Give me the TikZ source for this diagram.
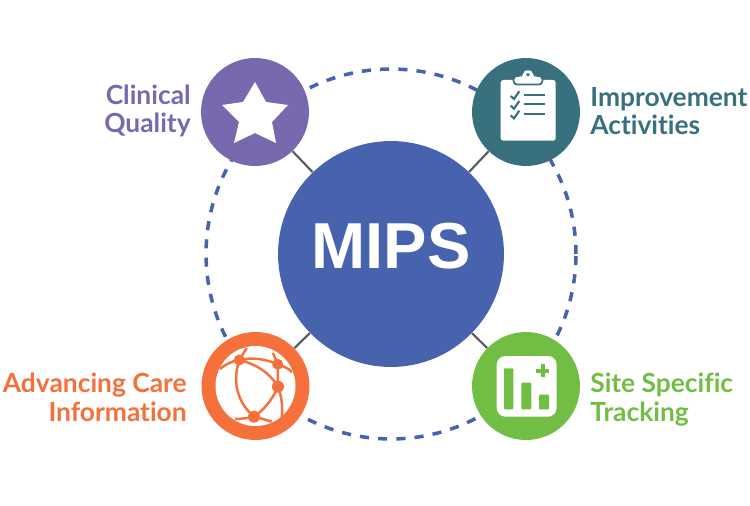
\documentclass[tikz,border=0pt]{standalone}
\usepackage{fontspec}
\setmainfont{Lato}[BoldFont={Lato Bold},Ligatures=NoCommon]
\newfontfamily\mipsfont{Liberation Sans}[BoldFont={Liberation Sans Bold}]

\definecolor{mipsblue}{HTML}{4863AE}
\definecolor{qualpurple}{HTML}{7868AE}
\definecolor{imprteal}{HTML}{38707E}
\definecolor{careorange}{HTML}{F5703A}
\definecolor{sitegreen}{HTML}{72BE44}

\tikzset{
  satellite/.style={circle, minimum size=2.16cm, inner sep=0pt},
  spoke/.style={draw=black!65, line width=1.2pt},
  caption/.style={font=\fontsize{15}{16.4}\selectfont\bfseries, inner sep=0pt},
}

\begin{document}
\begin{tikzpicture}[x=0.02cm, y=-0.02cm]
    \useasboundingbox (0,0) rectangle (750,506);
    \node[circle, minimum size=7.4cm, inner sep=0pt, draw=mipsblue, line width=2pt, dash pattern=on 5.2pt off 5.2pt] (ring) at (391,254) {};
    \node[circle, minimum size=4.52cm, inner sep=0pt, fill=mipsblue] (mips) at (391,254) {};
    \node[text=white, inner sep=0pt, font=\mipsfont\fontsize{37}{40}\selectfont\bfseries] (mipstext) at (391,246) {MIPS};
    \node[satellite, fill=qualpurple] (star) at (255,112) {};
    \node[satellite, fill=imprteal] (clip) at (526,112) {};
    \node[satellite, fill=careorange] (globe) at (255.5,386) {};
    \node[satellite, fill=sitegreen] (chart) at (526,386) {};
    \draw[spoke] (mips) -- (star);
    \draw[spoke] (mips) -- (clip);
    \draw[spoke] (mips) -- (globe);
    \draw[spoke] (mips) -- (chart);

    % star
    \fill[white] (255,82) -- (266,102) -- (288,105) -- (272,122) -- (276,143) -- (255,133) -- (234,143) -- (239,122) -- (222,105) -- (243,102) -- cycle;

    % clipboard
    \fill[white, rounded corners=1.5pt] (500.7,80) rectangle (555.7,140.7);
    \fill[white, draw=imprteal, line width=1pt, rounded corners=2pt] (513.5,84.5) -- (513.5,76) -- (522,76) -- (523,69.5) -- (533,69.5) -- (534,76) -- (542.5,76) -- (542.5,84.5) -- cycle;
    \fill[imprteal] (528,74.7) circle (1.9);
    \foreach \y in {0,1,2} {
      \draw[imprteal, line width=1.2pt] (510.7,96+9.7*\y) -- (514,99+9.7*\y) -- (519.3,91.3+9.7*\y);
      \draw[imprteal, line width=1.1pt] (524,94.7+9.7*\y) -- (545.3,94.7+9.7*\y);
    }

    % globe
    \fill[white] (255.5,386) circle (40);
    \draw[careorange, line width=1.4pt]
      (220,369) .. controls (226,364) and (232,361) .. (239.3,360)
      .. controls (252,357) and (266,359) .. (277.7,364.3)
      .. controls (283,366) and (288,368) .. (292,372)
      (239.3,360) -- (246.7,348)
      (277.7,364.3) -- (273,353)
      (239.3,360) .. controls (231,385) and (240,405) .. (254,416.7)
      (239.3,360) .. controls (256,364) and (270,373) .. (278,386.7)
      (277.7,364.3) -- (278,386.7)
      (278,386.7) .. controls (272,400) and (264,410) .. (254,416.7)
      (278,386.7) .. controls (282,398) and (283,408) .. (281.7,418)
      (235,419) .. controls (241,419) and (248,418) .. (254,416.7)
      .. controls (260,418) and (266,420) .. (271.7,421.7);
    \foreach \x/\y/\r in {239.3/360/5.5, 277.7/364.3/5.5, 278/386.7/6, 254/416.7/6}
      \fill[careorange] (\x,\y) circle (\r);

    % chart
    \fill[white, rounded corners=5pt] (496.7,356) rectangle (556.7,416.7);
    \fill[sitegreen, rounded corners=0.5pt] (504,368.3) rectangle (513.3,409.3);
    \fill[sitegreen, rounded corners=0.5pt] (521.3,382.7) rectangle (531.3,409.3);
    \fill[sitegreen, rounded corners=0.5pt] (539,394.7) rectangle (549,409.3);
    \draw[sitegreen, line width=2.2pt] (535.7,370.7) -- (549,370.7) (542.7,364) -- (542.7,377.3);

    \node[caption, text=qualpurple, align=right, anchor=east] (qualtext) at (191,111) {Clinical\\Quality};
    \node[caption, text=imprteal, align=left, anchor=west] (imprtext) at (590,111) {Improvement\\Activities};
    \node[caption, text=careorange, align=right, anchor=east] (caretext) at (187,397.5) {Advancing Care\\Information};
    \node[caption, text=sitegreen, align=left, anchor=west] (sitetext) at (590,400) {Site Specific\\Tracking};
\end{tikzpicture}
\end{document}
